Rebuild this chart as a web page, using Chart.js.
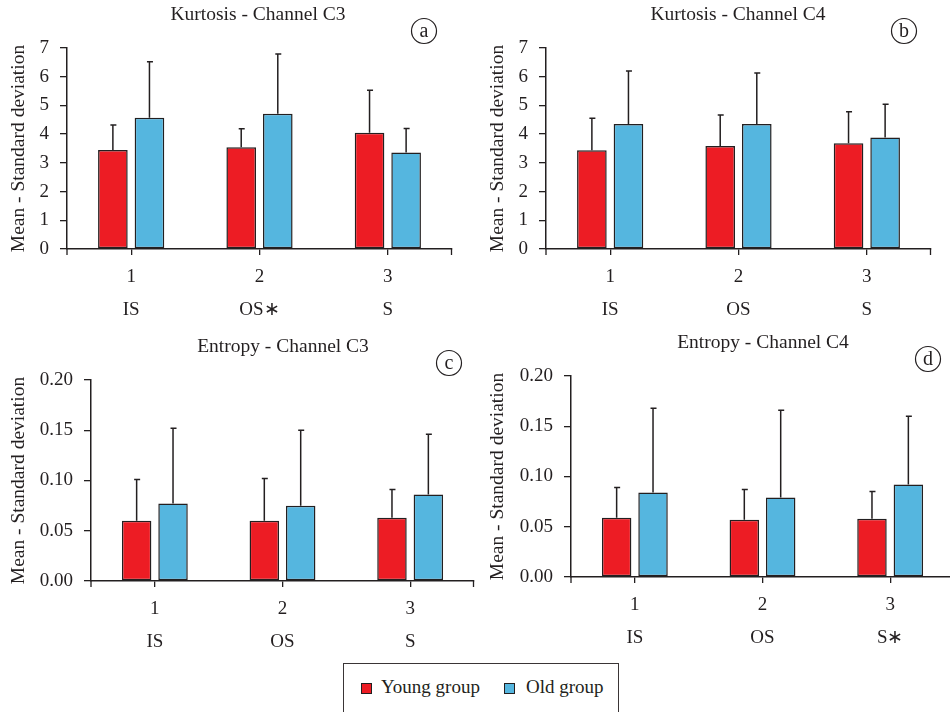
<!DOCTYPE html>
<html lang="en">
<head>
    <meta charset="UTF-8">
    <title>Kurtosis and Entropy - Young vs Old group</title>
    <style>
        html, body {
            margin: 0;
            padding: 0;
            background: #ffffff;
            width: 950px;
            height: 712px;
            overflow: hidden;
            position: relative;
            font-family: 'Liberation Serif', 'Times New Roman', serif;
            color: #231F20;
        }
        canvas {
            position: absolute;
            display: block;
        }
        #chartA { left: 0; top: 0; }
        #chartB { left: 475px; top: 0; }
        #chartC { left: 0; top: 330px; }
        #chartD { left: 475px; top: 330px; }
        .legend {
            position: absolute;
            left: 343px;
            top: 663px;
            width: 274px;
            height: 70px;
            border: 1px solid #3a3536;
            font-size: 19px;
        }
        .legend .sw {
            position: absolute;
            top: 19px;
            width: 9px;
            height: 9px;
            border: 1px solid #231F20;
        }
        .legend .lbl {
            position: absolute;
            top: 11px;
            line-height: 24px;
            white-space: nowrap;
        }
    </style>
</head>
<body>
    <canvas id="chartA" width="475" height="330"></canvas>
    <canvas id="chartB" width="475" height="330"></canvas>
    <canvas id="chartC" width="475" height="330"></canvas>
    <canvas id="chartD" width="485" height="330"></canvas>

    <div class="legend" id="legend"></div>

    <script src="https://cdn.jsdelivr.net/npm/chart.js"></script>
    <script>
        // categories and group names
        const categories = ['1', '2', '3'];
        const namesKurtC3 = ['IS', 'OS\u2217', 'S'];
        const namesKurtC4 = ['IS', 'OS', 'S'];
        const namesEntC3 = ['IS', 'OS', 'S'];
        const namesEntC4 = ['IS', 'OS', 'S\u2217'];
        const seriesNames = ['Young group', 'Old group'];

        // kurtosis, channel C3 (mean and standard deviation)
        const kurtC3Young = [3.45, 3.54, 4.05];
        const kurtC3YoungSD = [0.87, 0.65, 1.48];
        const kurtC3Old = [4.57, 4.71, 3.36];
        const kurtC3OldSD = [1.95, 2.08, 0.84];

        // kurtosis, channel C4
        const kurtC4Young = [3.44, 3.59, 3.68];
        const kurtC4YoungSD = [1.11, 1.08, 1.10];
        const kurtC4Old = [4.35, 4.35, 3.88];
        const kurtC4OldSD = [1.85, 1.78, 1.16];

        // entropy, channel C3
        const entC3Young = [0.060, 0.060, 0.063];
        const entC3YoungSD = [0.041, 0.042, 0.028];
        const entC3Old = [0.077, 0.075, 0.086];
        const entC3OldSD = [0.075, 0.075, 0.060];

        // entropy, channel C4
        const entC4Young = [0.059, 0.057, 0.058];
        const entC4YoungSD = [0.030, 0.030, 0.027];
        const entC4Old = [0.084, 0.079, 0.092];
        const entC4OldSD = [0.084, 0.087, 0.068];

        const INK = '#231F20';
        const RED = '#ED1C24';
        const BLUE = '#55B6DF';
        const FONT = "'Liberation Serif', 'Times New Roman', serif";

        // error bars (upward only), axis end ticks, panel title and letter
        const decorPlugin = {
            id: 'decor',
            afterDatasetsDraw(chart, args, opts) {
                const ctx = chart.ctx;
                const yScale = chart.scales.y;
                ctx.save();
                ctx.strokeStyle = INK;
                ctx.lineWidth = 1.5;
                chart.data.datasets.forEach((ds, di) => {
                    const meta = chart.getDatasetMeta(di);
                    meta.data.forEach((bar, i) => {
                        const top = yScale.getPixelForValue(ds.data[i] + ds.sd[i]);
                        ctx.beginPath();
                        ctx.moveTo(bar.x, bar.y);
                        ctx.lineTo(bar.x, top);
                        ctx.moveTo(bar.x - 2.5, top);
                        ctx.lineTo(bar.x + 3.5, top);
                        ctx.stroke();
                    });
                });
                const area = chart.chartArea;
                ctx.lineWidth = 1.3;
                ctx.beginPath();
                ctx.moveTo(area.left, area.bottom);
                ctx.lineTo(area.left, area.bottom + 6);
                ctx.moveTo(area.right - 0.5, area.bottom);
                ctx.lineTo(area.right - 0.5, area.bottom + 6);
                ctx.stroke();
                ctx.restore();
            },
            afterDraw(chart, args, opts) {
                const ctx = chart.ctx;
                ctx.save();
                ctx.fillStyle = INK;
                ctx.font = '19.5px ' + FONT;
                ctx.textAlign = 'center';
                ctx.textBaseline = 'middle';
                ctx.fillText(opts.title, opts.titleX, opts.titleY);
                // circled panel letter
                ctx.strokeStyle = INK;
                ctx.lineWidth = 1.2;
                ctx.beginPath();
                ctx.arc(opts.letterX, opts.letterY, 12.5, 0, Math.PI * 2);
                ctx.stroke();
                ctx.font = '20px ' + FONT;
                ctx.fillText(opts.letter, opts.letterX, opts.letterY + 1);
                ctx.restore();
            }
        };

        function makeChart(id, cfg) {
            const canvas = document.getElementById(id);
            const W = canvas.width;
            const H = canvas.height;
            return new Chart(canvas.getContext('2d'), {
                type: 'bar',
                data: {
                    labels: categories.map((c, i) => [c, cfg.names[i]]),
                    datasets: [
                        {
                            label: seriesNames[0],
                            data: cfg.young,
                            sd: cfg.youngSD,
                            backgroundColor: RED,
                            borderColor: INK,
                            borderWidth: 1.5,
                            borderSkipped: false,
                            categoryPercentage: 0.57,
                            barPercentage: 0.81
                        },
                        {
                            label: seriesNames[1],
                            data: cfg.old,
                            sd: cfg.oldSD,
                            backgroundColor: BLUE,
                            borderColor: INK,
                            borderWidth: 1.5,
                            borderSkipped: false,
                            categoryPercentage: 0.57,
                            barPercentage: 0.81
                        }
                    ]
                },
                options: {
                    responsive: false,
                    animation: false,
                    devicePixelRatio: 1,
                    layout: {
                        padding: { left: 0, top: cfg.top, right: W - cfg.right, bottom: 0 }
                    },
                    plugins: {
                        legend: { display: false },
                        tooltip: { enabled: false },
                        decor: {
                            title: cfg.title,
                            titleX: cfg.titleX,
                            titleY: cfg.titleY,
                            letter: cfg.letter,
                            letterX: cfg.letterX,
                            letterY: cfg.letterY
                        }
                    },
                    scales: {
                        x: {
                            afterFit: (scale) => { scale.height = H - cfg.bottom; },
                            grid: {
                                offset: false,
                                drawOnChartArea: false,
                                drawTicks: true,
                                tickLength: 6,
                                color: INK,
                                lineWidth: 1.3
                            },
                            border: { display: true, color: INK, width: 1.5 },
                            ticks: {
                                color: INK,
                                padding: 5,
                                maxRotation: 0,
                                font: { family: FONT, size: 19, lineHeight: 1.74 }
                            }
                        },
                        y: {
                            min: 0,
                            max: cfg.max,
                            afterFit: (scale) => { scale.width = cfg.left; },
                            grid: {
                                drawOnChartArea: false,
                                drawTicks: true,
                                tickLength: 7,
                                color: INK,
                                lineWidth: 1.3
                            },
                            border: { display: true, color: INK, width: 1.5 },
                            ticks: {
                                stepSize: cfg.step,
                                color: INK,
                                padding: 11,
                                font: { family: FONT, size: 19 },
                                callback: (v) => v.toFixed(cfg.digits)
                            },
                            title: {
                                display: true,
                                text: 'Mean - Standard deviation',
                                color: INK,
                                padding: { top: cfg.titlePad, bottom: 0 },
                                font: { family: FONT, size: 19.5 }
                            }
                        }
                    }
                },
                plugins: [decorPlugin]
            });
        }

        function buildAll() {
            makeChart('chartA', {
                names: namesKurtC3, young: kurtC3Young, youngSD: kurtC3YoungSD, old: kurtC3Old, oldSD: kurtC3OldSD,
                max: 7, step: 1, digits: 0,
                left: 67, right: 452, top: 48, bottom: 249, titlePad: 7,
                title: 'Kurtosis - Channel C3', titleX: 258, titleY: 15,
                letter: 'a', letterX: 424, letterY: 31
            });
            makeChart('chartB', {
                names: namesKurtC4, young: kurtC4Young, youngSD: kurtC4YoungSD, old: kurtC4Old, oldSD: kurtC4OldSD,
                max: 7, step: 1, digits: 0,
                left: 71, right: 456, top: 48, bottom: 249, titlePad: 11,
                title: 'Kurtosis - Channel C4', titleX: 263, titleY: 15,
                letter: 'b', letterX: 429, letterY: 31
            });
            makeChart('chartC', {
                names: namesEntC3, young: entC3Young, youngSD: entC3YoungSD, old: entC3Old, oldSD: entC3OldSD,
                max: 0.2, step: 0.05, digits: 2,
                left: 91, right: 474, top: 50, bottom: 251, titlePad: 7,
                title: 'Entropy - Channel C3', titleX: 283, titleY: 17,
                letter: 'c', letterX: 449, letterY: 33
            });
            makeChart('chartD', {
                names: namesEntC4, young: entC4Young, youngSD: entC4YoungSD, old: entC4Old, oldSD: entC4OldSD,
                max: 0.2, step: 0.05, digits: 2,
                left: 96, right: 479, top: 46, bottom: 247, titlePad: 11,
                title: 'Entropy - Channel C4', titleX: 288, titleY: 13,
                letter: 'd', letterX: 453, letterY: 29
            });
        }

        // legend box at the bottom
        const legend = document.getElementById('legend');
        const swatchX = [17, 160];
        const labelX = [37, 182];
        const swatchColors = [RED, BLUE];
        seriesNames.forEach((name, i) => {
            const sw = document.createElement('div');
            sw.className = 'sw';
            sw.style.left = swatchX[i] + 'px';
            sw.style.background = swatchColors[i];
            legend.appendChild(sw);
            const lbl = document.createElement('div');
            lbl.className = 'lbl';
            lbl.style.left = labelX[i] + 'px';
            lbl.textContent = name;
            legend.appendChild(lbl);
        });

        // canvas text needs the serif font loaded first
        Promise.all([
            document.fonts.load('19px "Liberation Serif"'),
            document.fonts.load('19px "Liberation Serif"', '\u2217')
        ]).then(buildAll, buildAll);
    </script>
</body>
</html>
